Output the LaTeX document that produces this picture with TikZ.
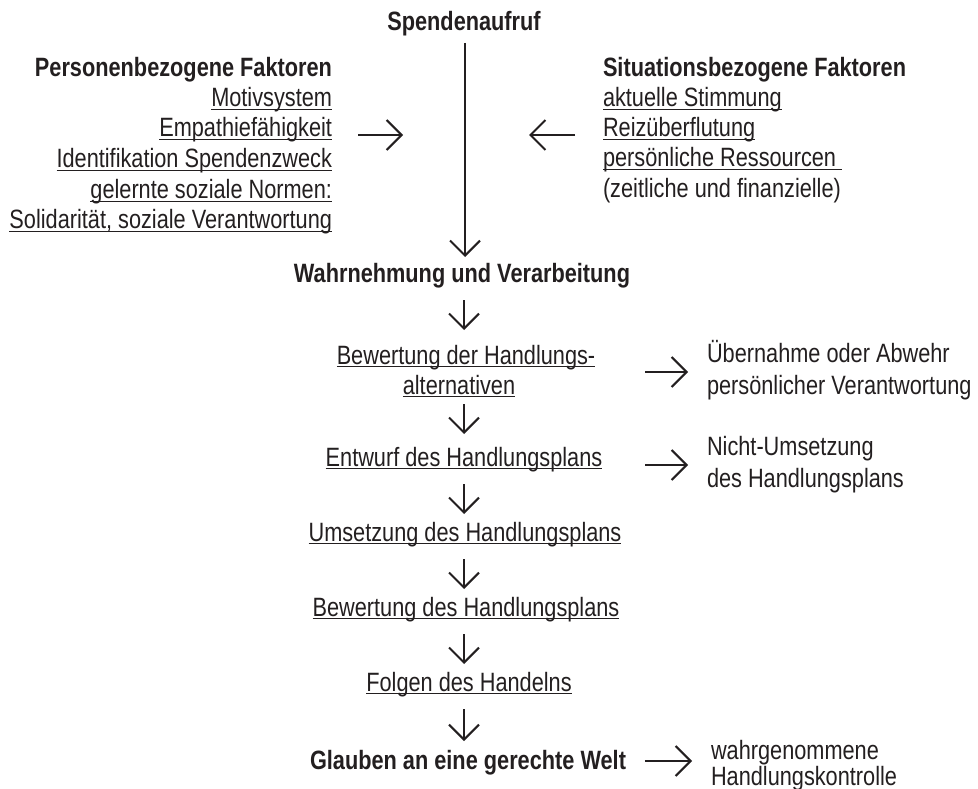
\documentclass[tikz,border=0pt]{standalone}
\usepackage{fontspec}
\setmainfont{Liberation Sans}[FakeStretch=0.82]
\usetikzlibrary{arrows.meta,calc}
\definecolor{ink}{HTML}{231F20}
\newlength\ulw
\newcommand\myul[1]{\settowidth{\ulw}{#1}\rlap{\rule[-2.9pt]{\ulw}{1.3pt}}#1}
\begin{document}
\begin{tikzpicture}[x=1pt,y=-1pt,
  every node/.style={inner sep=0pt, outer sep=0pt, text=ink, font=\fontsize{26.5}{30}\selectfont},
  boldtxt/.style={font=\fontsize{26.5}{30}\selectfont\bfseries},
  arr/.style={draw=ink, line width=2.1pt, -{Straight Barb[length=15pt,width=30pt]}}]
\useasboundingbox[fill=white] (0,0) rectangle (978,789);
\coordinate (ax) at (464,0);
% top
\node[boldtxt, anchor=base] (spend) at (464,31) {Spendenaufruf};
\node[boldtxt, anchor=base east] (pers) at (332,77) {Personenbezogene Faktoren};
\node[anchor=base east] (p1) at (332,107) {\myul{Motivsystem}};
\node[anchor=base east] (p2) at (332,137) {\myul{Empathiefähigkeit}};
\node[anchor=base east] (p3) at (332,168) {\myul{Identifikation Spendenzweck}};
\node[anchor=base east] (p4) at (332,199) {\myul{gelernte soziale Normen:}};
\node[anchor=base east] (p5) at (332,229) {\myul{Solidarität, soziale Verantwortung}};
\node[boldtxt, anchor=base west] (sit) at (603,77) {Situationsbezogene Faktoren};
\node[anchor=base west] (s1) at (603,107) {\myul{aktuelle Stimmung}};
\node[anchor=base west] (s2) at (603,137) {\myul{Reizüberflutung}};
\node[anchor=base west] (s3) at (603,167) {\myul{persönliche Ressourcen\ }};
\node[anchor=base west] (s4) at (603,197) {(zeitliche und finanzielle)};
% centre column
\node[boldtxt, anchor=base] (wahr) at (462,282) {Wahrnehmung und Verarbeitung};
\node[anchor=base] (b1a) at (466,364) {\myul{Bewertung der Handlungs-}};
\node[anchor=base] (b1b) at (459,394) {\myul{alternativen}};
\node[anchor=base] (entw) at (464,466) {\myul{Entwurf des Handlungsplans}};
\node[anchor=base] (ums) at (465,541) {\myul{Umsetzung des Handlungsplans}};
\node[anchor=base] (bew2) at (466,616) {\myul{Bewertung des Handlungsplans}};
\node[anchor=base] (folg) at (469,691) {\myul{Folgen des Handelns}};
\node[boldtxt, anchor=base] (glaub) at (468,769) {Glauben an eine gerechte Welt};
% right column
\node[anchor=base west] (ueA) at (707,362) {Übernahme oder Abwehr};
\node[anchor=base west] (ueB) at (707,394) {persönlicher Verantwortung};
\node[anchor=base west] (niA) at (707,455) {Nicht-Umsetzung};
\node[anchor=base west] (niB) at (707,487) {des Handlungsplans};
\node[anchor=base west] (wgA) at (711,759) {wahrgenommene};
\node[anchor=base west] (wgB) at (711,785) {Handlungskontrolle};
% connectors
\draw[arr] ($(ax |- spend.base)+(1,12)$) -- ($(ax |- wahr.base)+(1,-25)$);
\draw[arr] ($(p2.base east)+(26,-2)$) -- ($(p2.base east)+(71,-2)$);
\draw[arr] ($(s2.base west)+(-28,-2)$) -- ($(s2.base west)+(-74,-2)$);
\draw[arr] ($(ax |- wahr.base)+(0,18)$) -- ($(ax |- b1a.base)+(0,-34)$);
\draw[arr] ($(ax |- b1b.base)+(0,10)$) -- ($(ax |- entw.base)+(0,-32)$);
\draw[arr] ($(ax |- entw.base)+(0,18)$) -- ($(ax |- ums.base)+(0,-27)$);
\draw[arr] ($(ax |- ums.base)+(0,18)$) -- ($(ax |- bew2.base)+(0,-27)$);
\draw[arr] ($(ax |- bew2.base)+(0,18)$) -- ($(ax |- folg.base)+(0,-27)$);
\draw[arr] ($(ax |- folg.base)+(0,18)$) -- ($(ax |- glaub.base)+(0,-28)$);
\draw[arr] ($(ueA.base west)!.5!(ueB.base west)+(-62,-6)$) -- ($(ueA.base west)!.5!(ueB.base west)+(-19,-6)$);
\draw[arr] ($(niA.base west)!.5!(niB.base west)+(-62,-6)$) -- ($(niA.base west)!.5!(niB.base west)+(-19,-6)$);
\draw[arr] ($(glaub.base east)+(19,-8)$) -- ($(wgA.base west |- glaub.base)+(-19,-8)$);
\end{tikzpicture}
\end{document}
